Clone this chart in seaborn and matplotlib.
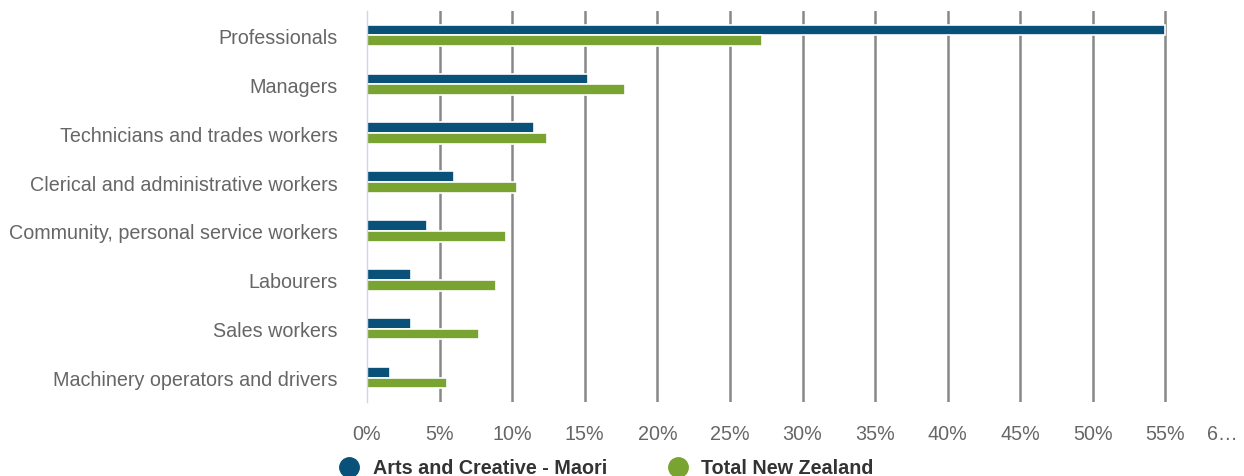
import matplotlib
matplotlib.use("Agg")
import matplotlib.pyplot as plt
from matplotlib.lines import Line2D
import seaborn as sns
import pandas as pd

categories = [
    "Professionals",
    "Managers",
    "Technicians and trades workers",
    "Clerical and administrative workers",
    "Community, personal service workers",
    "Labourers",
    "Sales workers",
    "Machinery operators and drivers",
]
maori_arts = [55.0, 15.2, 11.5, 6.0, 4.1, 3.0, 3.0, 1.6]
total_nz = [27.2, 17.8, 12.4, 10.3, 9.6, 8.9, 7.7, 5.5]
series_names = ["Arts and Creative - Maori", "Total New Zealand"]
colors = ["#0a5179", "#7aa431"]
tick_values = list(range(0, 65, 5))
tick_labels = [f"{v}%" for v in tick_values[:-1]] + ["6…"]

df = pd.DataFrame({
    "category": categories * 2,
    "value": maori_arts + total_nz,
    "series": [series_names[0]] * len(categories) + [series_names[1]] * len(categories),
})

sns.set_theme(style="white")
plt.rcParams["font.family"] = ["Liberation Sans", "DejaVu Sans"]

fig = plt.figure(figsize=(12.44, 4.77), dpi=100)
ax = fig.add_axes([367 / 1244, 1 - 403 / 477, (1238 - 367) / 1244, (403 - 12) / 477])

sns.barplot(
    data=df, y="category", x="value", hue="series", order=categories,
    hue_order=series_names, palette=colors, orient="h", width=0.44,
    edgecolor="white", linewidth=1.2, saturation=1, legend=False, ax=ax,
)

ax.set_xlim(0, 60)
ax.set_ylim(len(categories) - 0.5, -0.5)
ax.set_xticks(tick_values)
ax.set_xticklabels(tick_labels)
ax.grid(axis="x", color="#888888", linewidth=1.8)
ax.set_axisbelow(True)
gl = ax.get_xgridlines()
gl[0].set_visible(False)
gl[-1].set_visible(False)

for side in ["top", "right", "bottom"]:
    ax.spines[side].set_visible(False)
ax.spines["left"].set_color("#ccd6eb")
ax.spines["left"].set_linewidth(1)

ax.tick_params(axis="x", length=0, pad=16, labelsize=14.2, labelcolor="#666666")
ax.tick_params(axis="y", length=0, pad=21, labelsize=14.2, labelcolor="#666666")
ax.get_xticklabels()[-1].set_horizontalalignment("right")
ax.set_xlabel("")
ax.set_ylabel("")

handles = [
    Line2D([], [], marker="o", linestyle="", markersize=14, color=c, label=n)
    for c, n in zip(colors, series_names)
]
fig.legend(
    handles=handles, loc="center", bbox_to_anchor=(606.5 / 1244, 1 - 469 / 477),
    ncol=2, frameon=False, handlelength=1.0, handletextpad=0.7, columnspacing=3.07,
    borderpad=0.2, prop={"weight": "bold", "size": 14.2}, labelcolor="#333333",
)

fig.savefig("out.png", dpi=100, facecolor="white")
